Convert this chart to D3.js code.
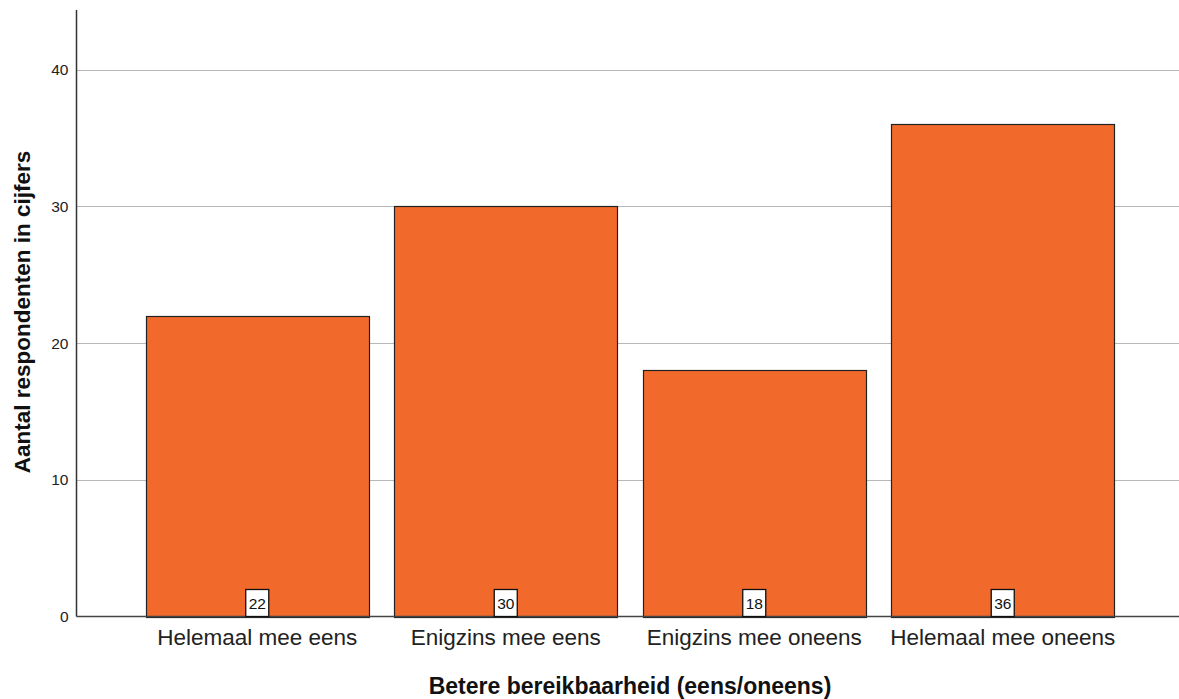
<!DOCTYPE html>
<html><head><meta charset="utf-8">
<script src="https://cdn.jsdelivr.net/npm/d3@7"></script>
<style>body{margin:0;background:#fff}svg{display:block;font-family:"Liberation Sans",Arial,sans-serif}</style>
</head><body>
<svg id="c" width="1179" height="699"></svg>
<script>
const categories = ["Helemaal mee eens","Enigzins mee eens","Enigzins mee oneens","Helemaal mee oneens"];
const values = [22,30,18,36];
const yTicks = [0,10,20,30,40];
const xTitle = "Betere bereikbaarheid (eens/oneens)";
const yTitle = "Aantal respondenten in cijfers";

(function(){
const svg = d3.select("#c");
const pLeft = 76.5, pRight = 1179, pTop = 10, pBottom = 616.5;
const y = d3.scaleLinear().domain([0,44.36]).range([pBottom, pTop]);
const x = d3.scaleBand().domain(categories).range([133,1127]).paddingInner(0.104).paddingOuter(0.052);

// grid
svg.append("g").selectAll("line").data(yTicks.filter(d=>d>0)).join("line")
  .attr("x1",pLeft).attr("x2",pRight)
  .attr("y1",d=>Math.round(y(d))+0.5).attr("y2",d=>Math.round(y(d))+0.5)
  .attr("stroke","#b8b8b8").attr("stroke-width",1.2);

// bars
svg.append("g").selectAll("rect").data(values).join("rect")
  .attr("x",(d,i)=>Math.round(x(categories[i]))+0.5)
  .attr("y",d=>Math.round(y(d))+0.5)
  .attr("width",Math.round(x.bandwidth()))
  .attr("height",d=>Math.round(pBottom)-Math.round(y(d)))
  .attr("fill","#f2692c").attr("stroke","#222").attr("stroke-width",1.2);

// y axis
const yAxis = d3.axisLeft(y).tickValues(yTicks).tickSize(0).tickPadding(8);
const ga = svg.append("g").attr("transform",`translate(${pLeft},0)`).call(yAxis);
ga.select(".domain").remove();
ga.selectAll("text").attr("font-size",15.5).attr("fill","#222").attr("font-family","Liberation Sans, Arial, sans-serif");
svg.append("line").attr("x1",pLeft).attr("x2",pLeft).attr("y1",pTop).attr("y2",pBottom).attr("stroke","#333").attr("stroke-width",1.5);
svg.append("line").attr("x1",pLeft).attr("x2",pRight).attr("y1",pBottom).attr("y2",pBottom).attr("stroke","#444").attr("stroke-width",1.5);

// x axis labels
const xAxis = d3.axisBottom(x).tickSize(0).tickPadding(13);
const gx = svg.append("g").attr("transform",`translate(0,${pBottom})`).call(xAxis);
gx.select(".domain").remove();
gx.selectAll("text").attr("font-size",22.5).attr("fill","#222").attr("font-family","Liberation Sans, Arial, sans-serif");

// value labels
const lab = svg.append("g").selectAll("g").data(values).join("g")
  .attr("transform",(d,i)=>`translate(${x(categories[i])+x.bandwidth()/2},${pBottom})`);
lab.append("rect").attr("x",-11.5).attr("y",-27).attr("width",23).attr("height",27)
  .attr("fill","#fff").attr("stroke","#111").attr("stroke-width",1.3);
lab.append("text").attr("text-anchor","middle").attr("y",-7.5).attr("font-size",15.5).attr("fill","#111").text(d=>d);

// titles
svg.append("text").attr("x",630).attr("y",694).attr("text-anchor","middle")
  .attr("font-size",23).attr("font-weight","bold").attr("fill","#111").text(xTitle);
svg.append("text").attr("transform","translate(30,312) rotate(-90)").attr("text-anchor","middle")
  .attr("font-size",22.5).attr("font-weight","bold").attr("fill","#111").text(yTitle);
})();
</script>
</body></html>
